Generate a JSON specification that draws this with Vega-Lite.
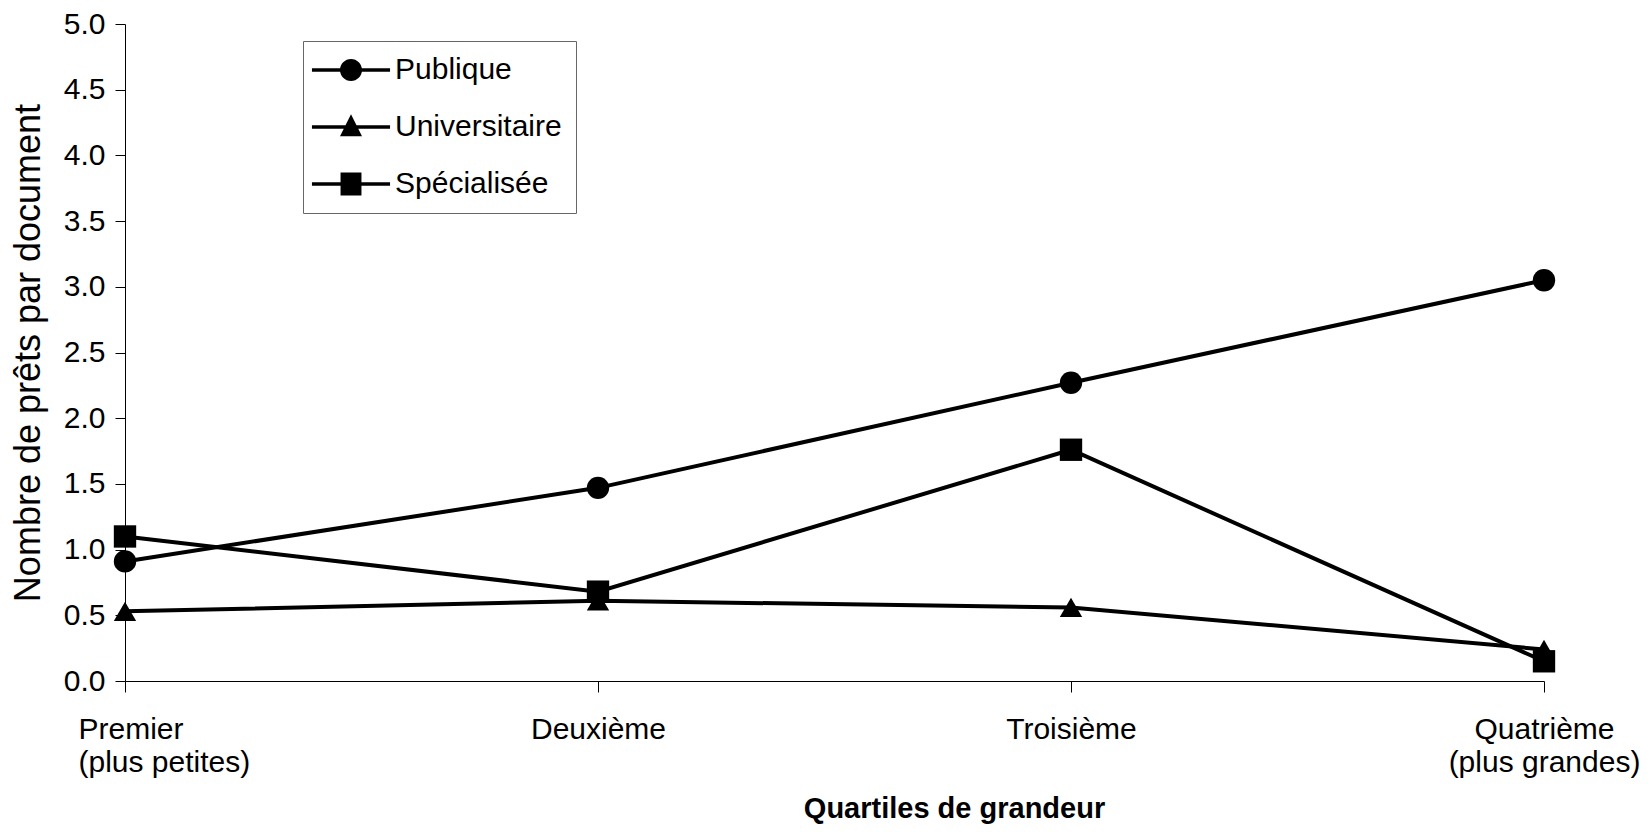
{
  "$schema": "https://vega.github.io/schema/vega-lite/v6.json",
  "width": 1419,
  "height": 657,
  "autosize": {"type": "none"},
  "padding": {"left": 125, "top": 24, "right": 106, "bottom": 151},
  "background": "white",
  "config": {
    "view": {"stroke": null},
    "font": "Liberation Sans",
    "axis": {
      "grid": false,
      "domainColor": "black",
      "domainWidth": 1,
      "tickColor": "black",
      "tickWidth": 1,
      "labelColor": "black",
      "titleColor": "black",
      "labelFontSize": 30,
      "labelFont": "Liberation Sans",
      "titleFont": "Liberation Sans"
    }
  },
  "data": {
    "values": [
      {"q": "Premier", "serie": "Publique", "v": 0.91},
      {"q": "Deuxième", "serie": "Publique", "v": 1.47},
      {"q": "Troisième", "serie": "Publique", "v": 2.27},
      {"q": "Quatrième", "serie": "Publique", "v": 3.05},
      {"q": "Premier", "serie": "Universitaire", "v": 0.53},
      {"q": "Deuxième", "serie": "Universitaire", "v": 0.61},
      {"q": "Troisième", "serie": "Universitaire", "v": 0.56},
      {"q": "Quatrième", "serie": "Universitaire", "v": 0.24},
      {"q": "Premier", "serie": "Spécialisée", "v": 1.10},
      {"q": "Deuxième", "serie": "Spécialisée", "v": 0.68},
      {"q": "Troisième", "serie": "Spécialisée", "v": 1.76},
      {"q": "Quatrième", "serie": "Spécialisée", "v": 0.15}
    ]
  },
  "encoding": {
    "x": {
      "field": "q",
      "type": "ordinal",
      "scale": {"type": "point", "padding": 0, "domain": ["Premier", "Deuxième", "Troisième", "Quatrième"]},
      "axis": {
        "labelAngle": 0,
        "tickSize": 11,
        "labelPadding": 22,
        "labelBaseline": "top",
        "labelLineHeight": 33,
        "labelLimit": 400,
        "labelExpr": "datum.value == 'Premier' ? ['Premier', ' (plus petites)'] : datum.value == 'Quatrième' ? ['Quatrième', '(plus grandes)'] : datum.value",
        "labelAlign": {"condition": {"test": "datum.value == 'Premier'", "value": "left"}, "value": "center"},
        "labelOffset": {"condition": {"test": "datum.value == 'Premier'", "value": -47}, "value": 0},
        "title": "Quartiles de grandeur",
        "titleFontSize": 29,
        "titleFontWeight": "bold",
        "titleX": 829,
        "titleY": 136,
        "titleAlign": "center",
        "titleBaseline": "alphabetic"
      }
    },
    "y": {
      "field": "v",
      "type": "quantitative",
      "scale": {"domain": [0, 5], "nice": false},
      "axis": {
        "values": [0, 0.5, 1, 1.5, 2, 2.5, 3, 3.5, 4, 4.5, 5],
        "format": ".1f",
        "tickSize": 10,
        "labelPadding": 10,
        "title": "Nombre de prêts par document",
        "titleFontSize": 36,
        "titleFontWeight": "normal",
        "titleX": -86,
        "titleBaseline": "alphabetic"
      }
    }
  },
  "layer": [
    {
      "mark": {"type": "line", "color": "black", "strokeWidth": 4},
      "encoding": {"detail": {"field": "serie"}}
    },
    {
      "mark": {"type": "point", "filled": true, "color": "black", "size": 500, "opacity": 1},
      "encoding": {
        "shape": {
          "field": "serie",
          "scale": {"domain": ["Publique", "Universitaire", "Spécialisée"], "range": ["circle", "triangle-up", "square"]},
          "legend": null
        }
      }
    },
    {
      "mark": {"type": "point", "filled": true, "color": "black", "size": 484, "opacity": 0},
      "encoding": {
        "shape": {
          "field": "serie",
          "scale": {
            "domain": ["Publique", "Universitaire", "Spécialisée"],
            "range": [
              "M-3.55,-0.16H3.55V0.16H-3.55ZM-1,0A1,1 0 1,1 1,0A1,1 0 1,1 -1,0Z",
              "M-3.55,-0.16H3.55V0.16H-3.55ZM0,-1.15L1,0.85L-1,0.85Z",
              "M-3.55,-0.16H3.55V0.16H-3.55ZM-0.95,-1.05H0.95V1.05H-0.95Z"
            ]
          },
          "legend": {
            "title": null,
            "orient": "none",
            "legendX": 178,
            "legendY": 17,
            "symbolSize": 484,
            "symbolFillColor": "black",
            "symbolStrokeColor": "black",
            "symbolStrokeWidth": 0,
            "symbolOpacity": 1,
            "symbolOffset": 19,
            "labelOffset": 29,
            "labelFontSize": 30,
            "labelLimit": 400,
            "labelFont": "Liberation Sans",
            "labelColor": "black",
            "rowPadding": 27,
            "padding": 14,
            "strokeColor": "#666666",
            "fillColor": "white"
          }
        }
      }
    }
  ],
  "resolve": {"scale": {"shape": "independent"}}
}
